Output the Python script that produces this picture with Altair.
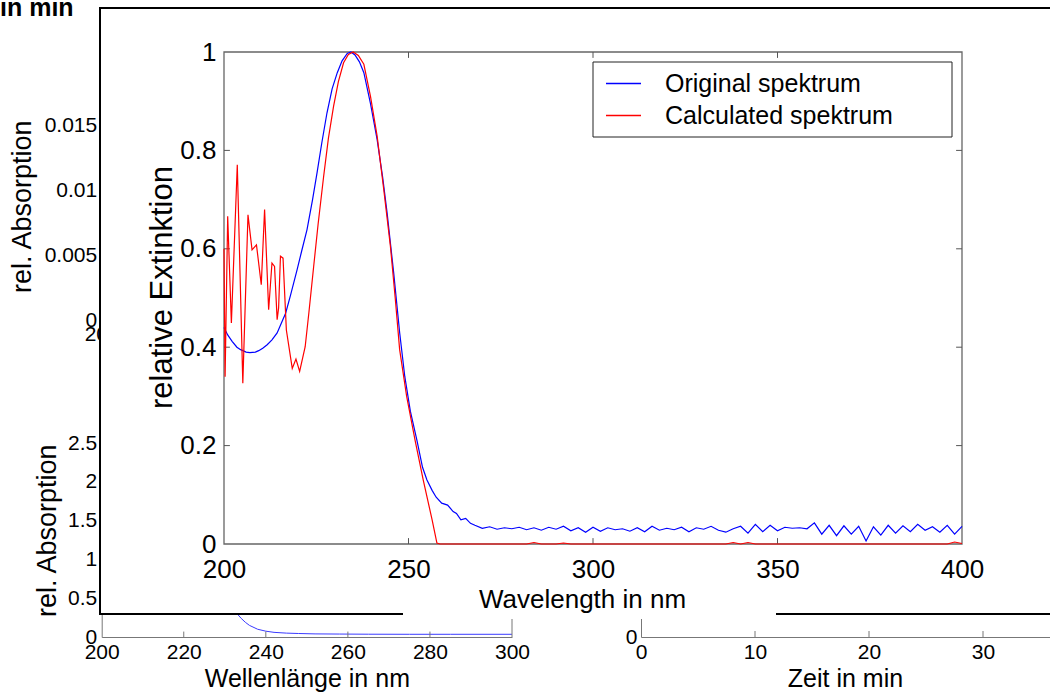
import altair as alt
import pandas as pd

FONT = "Liberation Sans"

# ---------------- main (inset) chart data ----------------
orig_x = [200, 201, 202.2, 203.5, 204.5, 206, 207, 208.5, 209.4, 210.5, 211.7, 213, 214.4, 215.5,
          216.7, 218, 219.8, 221, 222.5, 224, 225.2, 226.5, 227.9, 229.3, 230.7, 232, 233.4, 234.4,
          235.5, 236.7, 237.9, 239.7, 241.5, 243, 244.2, 246, 247.6, 249, 250.5, 252.3, 253.8, 255,
          256.4, 257.5, 259, 260.6, 262.1, 263, 264.2, 265.5, 266.8,
          268, 270, 272, 274, 276, 278, 280, 282, 284, 286, 288, 290, 292, 294, 296, 298, 300,
          302, 304, 306, 308, 310, 312, 314, 316, 318, 320, 322, 324, 326, 328, 330, 332, 334,
          336, 338, 340, 342, 344, 346, 348, 350, 352, 354, 356, 358, 360, 362, 364, 366, 368,
          370, 372, 374, 376, 378, 380, 382, 384, 386, 388, 390, 392, 394, 396, 398, 400]
orig_y = [0.44, 0.425, 0.412, 0.40, 0.395, 0.39, 0.389, 0.39, 0.393, 0.398, 0.405, 0.415, 0.429, 0.448,
          0.469, 0.505, 0.557, 0.594, 0.639, 0.70, 0.754, 0.815, 0.876, 0.925, 0.958, 0.982, 0.997, 1.0,
          0.994, 0.98, 0.958, 0.895, 0.822, 0.745, 0.673, 0.55, 0.43, 0.34, 0.27, 0.21, 0.156, 0.13,
          0.109, 0.095, 0.083, 0.079, 0.066, 0.062, 0.049, 0.052, 0.042,
          0.038, 0.032, 0.035, 0.030, 0.033, 0.031, 0.034, 0.029, 0.033, 0.028, 0.034, 0.030, 0.036,
          0.027, 0.033, 0.024, 0.034, 0.026, 0.033, 0.029, 0.031, 0.026, 0.033, 0.025, 0.036, 0.028,
          0.032, 0.029, 0.034, 0.025, 0.033, 0.030, 0.036, 0.028, 0.024, 0.031, 0.036, 0.022, 0.040,
          0.025, 0.038, 0.027, 0.034, 0.032, 0.033, 0.031, 0.043, 0.020, 0.038, 0.017, 0.037, 0.020,
          0.036, 0.006, 0.035, 0.018, 0.038, 0.022, 0.037, 0.025, 0.040, 0.028, 0.035, 0.024, 0.038,
          0.020, 0.036]
calc_x = [200, 200.3, 201, 202, 203.6, 205.1, 206.5, 207.6, 208.8, 210.1, 211, 212.1, 213, 213.7,
          214.4, 214.8, 215.3, 216, 216.9, 218.5, 219.5, 220.5, 222, 223, 224.3, 225.5, 227, 228.3,
          229.7, 231, 232.4, 233.7, 235, 236.4, 237.9, 239.7, 241.5, 243.3, 245.1, 246.4, 247.6,
          249.5, 251.8, 254, 256.4, 257.7, 258.5, 282, 284, 286, 290, 292, 294, 336, 338, 340, 342,
          344, 396, 398, 400]
calc_y = [0.60, 0.34, 0.666, 0.449, 0.771, 0.327, 0.669, 0.598, 0.608, 0.527, 0.68, 0.476, 0.571, 0.564,
          0.456, 0.48, 0.585, 0.581, 0.435, 0.357, 0.376, 0.351, 0.401, 0.47, 0.564, 0.65, 0.747, 0.825,
          0.89, 0.94, 0.978, 0.995, 1.0, 0.993, 0.975, 0.91, 0.829, 0.72, 0.605, 0.5, 0.395,
          0.30, 0.21, 0.13, 0.049, 0.002, 0.0, 0.0, 0.003, 0.0, 0.0, 0.002, 0.0, 0.0, 0.003, 0.0, 0.003,
          0.0, 0.0, 0.004, 0.001]
series_names = ["Original spektrum", "Calculated spektrum"]
series_colors = ["#0000ff", "#ff0000"]
main_x_ticks = [200, 250, 300, 350, 400]
main_y_ticks = [0, 0.2, 0.4, 0.6, 0.8, 1]

# ---------------- background panels (partly hidden) ----------------
bl_x = [228, 230, 232, 233, 234, 235, 236, 238, 240, 242, 245, 248, 252, 258, 265, 275, 285, 300]
bl_y = [0.9, 0.6, 0.4, 0.3, 0.24, 0.19, 0.15, 0.1, 0.075, 0.06, 0.05, 0.045, 0.04, 0.038, 0.036,
        0.035, 0.035, 0.035]
bl_x_ticks = [200, 220, 240, 260, 280, 300]
bl_y_ticks = [0, 0.5, 1, 1.5, 2, 2.5]
ul_x_ticks = [200]
ul_y_ticks = [0, 0.005, 0.01, 0.015]
br_x_ticks = [0, 10, 20, 30]
br_y_ticks = [0]
bg_titles = ["rel. Absorption", "Wellenlänge in nm", "Zeit in min", "in min"]

# ---------------- layout ----------------
W, H = 738, 492
L, T = 224, 52


def ax(**kw):
    base = dict(labelFont=FONT, titleFont=FONT, labelColor="black", titleColor="black",
                titleFontWeight="normal", grid=False, ticks=False, tickSize=0,
                labelFlush=False, labelOverlap=False, domainColor="#777")
    base.update(kw)
    return alt.Axis(**base)


def mx():
    return alt.Scale(domain=[main_x_ticks[0], main_x_ticks[-1]], nice=False, zero=False)


def my():
    return alt.Scale(domain=[main_y_ticks[0], main_y_ticks[-1]], nice=False, zero=False)


# ---- main chart ----
main_df = pd.concat([
    pd.DataFrame({"wl": orig_x, "val": orig_y, "series": series_names[0]}),
    pd.DataFrame({"wl": calc_x, "val": calc_y, "series": series_names[1]}),
])

lines = alt.Chart(main_df).mark_line(strokeWidth=1.2).encode(
    x=alt.X("wl:Q", scale=mx(), axis=ax(orient="bottom", values=main_x_ticks, format="d",
                                         title="Wavelength in nm", zindex=1, domain=False,
                                         labelFontSize=26, labelPadding=12, titleFontSize=26,
                                         titlePadding=4, titleX=358)),
    y=alt.Y("val:Q", scale=my(), axis=ax(orient="left", values=main_y_ticks, format="~g",
                                          title="relative Extinktion", zindex=1, domain=False,
                                          labelFontSize=26, labelPadding=8, titleFontSize=31,
                                          titlePadding=1, titleY=235)),
    color=alt.Color("series:N", scale=alt.Scale(domain=series_names, range=series_colors),
                    legend=alt.Legend(title=None, orient="none", legendX=605 - L, legendY=65 - T,
                                      direction="vertical", padding=0, symbolType="stroke",
                                      symbolSize=1225, symbolStrokeWidth=1.5, labelOffset=23,
                                      labelFontSize=25, labelFont=FONT, labelColor="black",
                                      rowPadding=0, labelLimit=600)),
    order=alt.Order("wl:Q"),
)

tick_rows = []
for v in main_x_ticks[1:-1]:
    tick_rows.append(dict(x=v, x2=v, y=main_y_ticks[0], y2=0.012))
    tick_rows.append(dict(x=v, x2=v, y=main_y_ticks[-1], y2=0.988))
for v in main_y_ticks[1:-1]:
    tick_rows.append(dict(x=main_x_ticks[0], x2=201.6, y=v, y2=v))
    tick_rows.append(dict(x=main_x_ticks[-1], x2=398.4, y=v, y2=v))
main_ticks = alt.Chart(pd.DataFrame(tick_rows)).mark_rule(color="#555", strokeWidth=1).encode(
    x=alt.X("x:Q", scale=mx(), axis=None), x2="x2:Q",
    y=alt.Y("y:Q", scale=my(), axis=None), y2="y2:Q")

frame_df = pd.DataFrame({"x": [main_x_ticks[0]], "x2": [main_x_ticks[-1]],
                         "y": [main_y_ticks[0]], "y2": [main_y_ticks[-1]]})
main_frame = alt.Chart(frame_df).mark_rect(fillOpacity=0, stroke="#666", strokeWidth=1.3).encode(
    x=alt.X("x:Q", scale=mx(), axis=None), x2="x2:Q",
    y=alt.Y("y:Q", scale=my(), axis=None), y2="y2:Q")


# ---- background: lower-left spectrum ----
def blx():
    return alt.Scale(domain=[200, 300], range=[101.7 - L, 512 - L], nice=False, zero=False)


def bly():
    return alt.Scale(domain=[0, 2.75], range=[637 - T, 637 - T - 2.75 * 77.6], nice=False)


bl_line = alt.Chart(pd.DataFrame({"wl": bl_x, "val": bl_y})).mark_line(
    color="#3a3aff", strokeWidth=1).encode(
    x=alt.X("wl:Q", scale=blx(), axis=ax(orient="bottom", offset=637 - T - H, values=bl_x_ticks,
                                          format="d", title=bg_titles[1], labelFontSize=21,
                                          labelPadding=4, titleFontSize=25, titlePadding=4)),
    y=alt.Y("val:Q", scale=bly(), axis=ax(orient="left", offset=L - 101.7, values=bl_y_ticks,
                                           format="~g", title=bg_titles[0], labelFontSize=21,
                                           labelPadding=5, titleFontSize=27, titlePadding=6)),
)
bl_tick_df = pd.DataFrame({"x": bl_x_ticks[1:-1], "y": 0, "y2": 0.07})
bl_ticks = alt.Chart(bl_tick_df).mark_rule(color="#777").encode(
    x=alt.X("x:Q", scale=blx(), axis=None), y=alt.Y("y:Q", scale=bly(), axis=None), y2="y2:Q")
bl_border = alt.Chart(pd.DataFrame({"x": [bl_x_ticks[-1]], "y": [0], "y2": [2.75]})).mark_rule(
    color="#777").encode(
    x=alt.X("x:Q", scale=blx(), axis=None), y=alt.Y("y:Q", scale=bly(), axis=None), y2="y2:Q")

# ---- background: upper-left ----
ulx = alt.Scale(domain=[200, 300], range=[101.7 - L, 512 - L], nice=False, zero=False)
uly = alt.Scale(domain=[0, 0.0175], range=[320 - T, 320 - T - 0.0175 * 13000], nice=False)
ul_axes = alt.Chart(pd.DataFrame({"x": ul_x_ticks * len(ul_y_ticks), "y": ul_y_ticks})).mark_point(
    opacity=0).encode(
    x=alt.X("x:Q", scale=ulx, axis=ax(orient="bottom", offset=320 - T - H, values=ul_x_ticks,
                                       format="d", title=None, domain=False, labelFontSize=21,
                                       labelPadding=3)),
    y=alt.Y("y:Q", scale=uly, axis=ax(orient="left", offset=L - 101.7, values=ul_y_ticks,
                                       format="~g", title=bg_titles[0], domain=False,
                                       labelFontSize=21, labelPadding=5, titleFontSize=27,
                                       titlePadding=8)),
)

# ---- background: lower-right (time) ----
brx = alt.Scale(domain=[0, 40], range=[641 - L, 641 - L + 456], nice=False, zero=False)
bry = alt.Scale(domain=[0, 1], range=[637 - T, 637 - T - 300], nice=False)
br_tick_df = pd.DataFrame({"x": br_x_ticks[1:], "y": 0, "y2": 0.02})
br_axes = alt.Chart(br_tick_df).mark_rule(color="#777").encode(
    x=alt.X("x:Q", scale=brx, axis=ax(orient="bottom", offset=637 - T - H, values=br_x_ticks,
                                       format="d", title=bg_titles[2], labelFontSize=21,
                                       labelPadding=4, titleFontSize=25, titlePadding=4,
                                       titleX=845 - L)),
    y=alt.Y("y:Q", scale=bry, axis=ax(orient="left", offset=L - 641, values=br_y_ticks,
                                       format="d", title=None, labelFontSize=21, labelPadding=4)),
    y2="y2:Q",
)

# ---- covering box of the inset, legend frame, and text cut from the panel above ----
one = pd.DataFrame({"k": [0]})
box = alt.Chart(one).mark_rect(fill="white", stroke="black", strokeWidth=2).encode(
    x=alt.value(100 - L), x2=alt.value(1056 - L), y=alt.value(8 - T), y2=alt.value(614 - T))
gap = alt.Chart(one).mark_rect(fill="white").encode(
    x=alt.value(403 - L), x2=alt.value(776 - L), y=alt.value(609 - T), y2=alt.value(619 - T))
legend_box = alt.Chart(one).mark_rect(fill="white", stroke="#222", strokeWidth=1).encode(
    x=alt.value(593 - L), x2=alt.value(952 - L), y=alt.value(62 - T), y2=alt.value(137 - T))
top_text = alt.Chart(pd.DataFrame({"t": [bg_titles[3]]})).mark_text(
    align="left", baseline="alphabetic", font=FONT, fontSize=25, fontWeight="bold",
    color="black").encode(x=alt.value(-L), y=alt.value(16 - T), text="t:N")

chart = alt.layer(
    ul_axes, bl_line, bl_ticks, bl_border, br_axes, top_text, box, gap,
    main_frame, main_ticks, lines, legend_box
).resolve_scale(
    x="independent", y="independent"
).properties(
    width=W, height=H, autosize="none",
    padding={"left": L, "top": T, "right": 1050 - L - W, "bottom": 693 - T - H},
).configure_view(strokeOpacity=0)

chart.save("out.html", embed_options={"renderer": "svg", "actions": False})
